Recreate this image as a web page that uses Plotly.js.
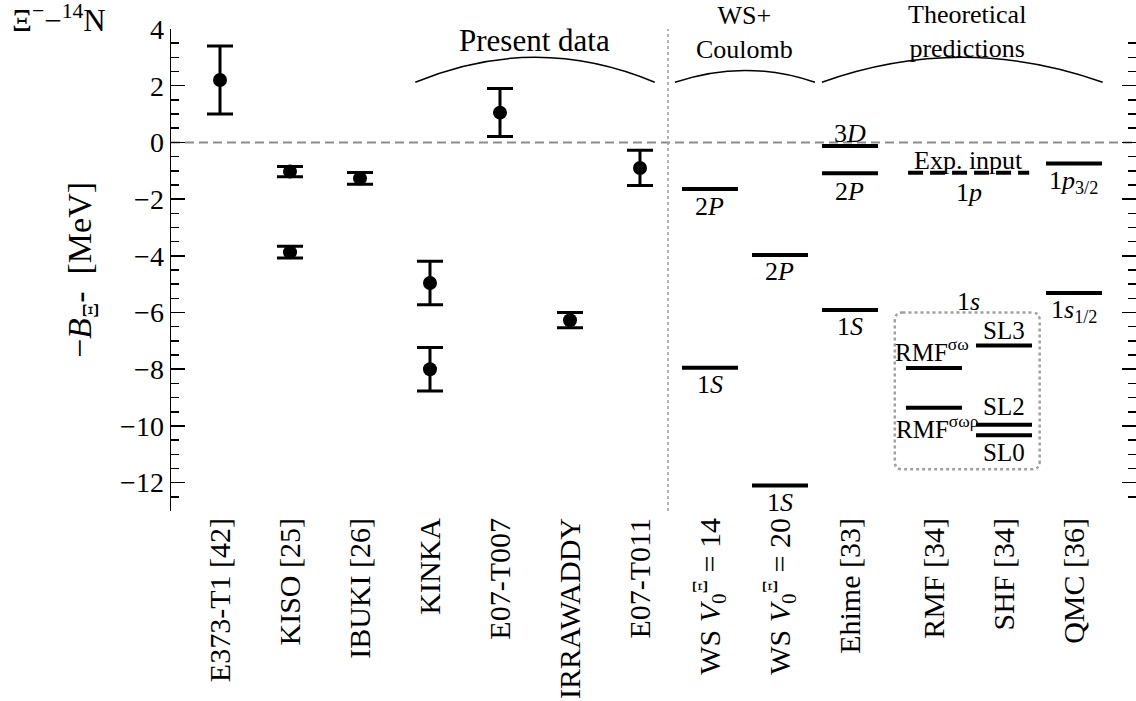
<!DOCTYPE html>
<html>
<head>
<meta charset="utf-8">
<script src="https://cdn.plot.ly/plotly-3.0.1.min.js"></script>
<style>html,body{margin:0;padding:0;background:#fff;}#chart{width:1136px;height:701px;}</style>
</head>
<body>
<div id="chart"></div>
<script>
// ---------------- DATA ----------------
const categories = ['E373-T1 [42]', 'KISO [25]', 'IBUKI [26]', 'KINKA', 'E07-T007', 'IRRAWADDY', 'E07-T011',
  'WS V0=14', 'WS V0=20', 'Ehime [33]', 'RMF [34]', 'SHF [34]', 'QMC [36]'];
const tickLabels = ['E373-T1 [42]', 'KISO [25]', 'IBUKI [26]', 'KINKA', 'E07-T007', 'IRRAWADDY', 'E07-T011',
  'WS <i>V</i><sub>0</sub><sup>Ξ</sup> = 14', 'WS <i>V</i><sub>0</sub><sup>Ξ</sup> = 20', 'Ehime [33]', 'RMF [34]', 'SHF [34]', 'QMC [36]'];

// experimental points (-B in MeV)
const expCategory = ['E373-T1 [42]', 'KISO [25]', 'KISO [25]', 'IBUKI [26]', 'KINKA', 'KINKA', 'E07-T007', 'IRRAWADDY', 'E07-T011'];
const expValue    = [2.20, -1.03, -3.87, -1.27, -4.96, -8.00, 1.05, -6.27, -0.90];
const expErrPlus  = [1.20, 0.18, 0.21, 0.21, 0.77, 0.77, 0.85, 0.27, 0.62];
const expErrMinus = [1.20, 0.18, 0.21, 0.21, 0.77, 0.77, 0.84, 0.27, 0.62];

// theoretical levels
const ws14Levels = [-1.64, -7.95];
const ws14Labels = ['2<i>P</i>', '1<i>S</i>'];
const ws20Levels = [-3.97, -12.10];
const ws20Labels = ['2<i>P</i>', '1<i>S</i>'];
const ehimeLevels = [-0.13, -1.09, -5.91];
const ehimeLabels = ['3<i>D</i>', '2<i>P</i>', '1<i>S</i>'];
const rmfLevels = [-7.96, -9.36];
const rmfLabels = ['RMF<sup>σω</sup>', 'RMF<sup>σωρ</sup>'];
const shfLevels = [-7.16, -9.96, -10.33];
const shfLabels = ['SL3', 'SL2', 'SL0'];
const qmcLevels = [-0.74, -5.31];
const qmcLabels = ['1<i>p</i><sub>3/2</sub>', '1<i>s</i><sub>1/2</sub>'];
const expInputLevel = -1.07;

// ---------------- LAYOUT HELPERS ----------------
// horizontal slot of each category on the numeric x axis
const slot = [0, 1, 2, 3, 4, 5, 6, 7, 8, 9, 10.2, 11.2, 12.2];
const pos = c => slot[categories.indexOf(c)];
const HALF = 0.4;
const FONT = 'Liberation Serif, Times New Roman, serif';

const traces = [];
traces.push({
  type: 'scatter', mode: 'markers',
  x: expCategory.map(pos), y: expValue,
  marker: {color: 'black', size: 14, symbol: 'circle'},
  error_y: {type: 'data', symmetric: false, array: expErrPlus, arrayminus: expErrMinus,
            color: 'black', thickness: 3, width: 13},
  showlegend: false, hoverinfo: 'y'
});

function levelTrace(cat, levels) {
  const x = [], y = [];
  const c = pos(cat);
  levels.forEach(v => { x.push(c - HALF, c + HALF, null); y.push(v, v, null); });
  return {type: 'scatter', mode: 'lines', x, y, line: {color: 'black', width: 4},
          showlegend: false, hoverinfo: 'y'};
}
traces.push(levelTrace('WS V0=14', ws14Levels));
traces.push(levelTrace('WS V0=20', ws20Levels));
traces.push(levelTrace('Ehime [33]', ehimeLevels));
traces.push(levelTrace('RMF [34]', rmfLevels));
traces.push(levelTrace('SHF [34]', shfLevels));
traces.push(levelTrace('QMC [36]', qmcLevels));
// experimental input shared by RMF and SHF
traces.push({type: 'scatter', mode: 'lines',
  x: [pos('RMF [34]') - HALF + 0.03, pos('SHF [34]') + HALF - 0.04], y: [expInputLevel, expInputLevel],
  line: {color: 'black', width: 4, dash: '15px,7px'}, showlegend: false, hoverinfo: 'y'});

const annotations = [];
function labelLevels(cat, levels, labels, shifts, size, xshifts) {
  levels.forEach((v, i) => {
    annotations.push({x: pos(cat), y: v, xref: 'x', yref: 'y', text: labels[i], showarrow: false,
      yanchor: 'middle', yshift: shifts[i], xshift: xshifts ? xshifts[i] : 0,
      font: {family: FONT, size: size, color: 'black'}});
  });
}
labelLevels('WS V0=14', ws14Levels, ws14Labels, [-18, -17], 26);
labelLevels('WS V0=20', ws20Levels, ws20Labels, [-17, -17], 26);
labelLevels('Ehime [33]', ehimeLevels, ehimeLabels, [13, -18, -17], 26);
labelLevels('RMF [34]', rmfLevels, rmfLabels, [18, -19], 25, [-2, 4]);
labelLevels('SHF [34]', shfLevels, shfLabels, [15, 18, -17], 25);
labelLevels('QMC [36]', qmcLevels, qmcLabels, [-19, -18], 26);
const expMid = (pos('RMF [34]') + pos('SHF [34]')) / 2;
annotations.push({x: expMid, y: expInputLevel, text: 'Exp. input', showarrow: false, yanchor: 'middle', yshift: 12,
  font: {family: FONT, size: 26, color: 'black'}});
annotations.push({x: expMid, y: expInputLevel, text: '1<i>p</i>', showarrow: false, yanchor: 'middle', yshift: -20,
  font: {family: FONT, size: 26, color: 'black'}});
annotations.push({x: expMid, y: -5.61, text: '1<i>s</i>', showarrow: false, yanchor: 'middle',
  font: {family: FONT, size: 26, color: 'black'}});

// group headers (decoration)
annotations.push({x: 4.5, xref: 'x', y: 0.977, yref: 'paper', yanchor: 'middle', text: 'Present data', showarrow: false,
  font: {family: FONT, size: 31, color: 'black'}});
annotations.push({x: 7.5, xref: 'x', y: 0.992, yref: 'paper', yanchor: 'middle', text: 'WS+<br>Coulomb', showarrow: false,
  font: {family: FONT, size: 26, color: 'black'}});
annotations.push({x: 10.67, xref: 'x', y: 0.994, yref: 'paper', yanchor: 'middle', text: 'Theoretical<br>predictions', showarrow: false,
  font: {family: FONT, size: 26, color: 'black'}});
annotations.push({x: -0.1668, xref: 'paper', xanchor: 'left', y: 1.022, yref: 'paper', yanchor: 'middle',
  text: 'Ξ<sup>−</sup>−<sup>14</sup>N', showarrow: false, font: {family: FONT, size: 31, color: 'black'}});

const shapes = [
  {type: 'line', xref: 'paper', x0: 0, x1: 1, yref: 'y', y0: 0, y1: 0,
   line: {color: '#8c8c8c', width: 2, dash: '9px,5px'}, layer: 'below'},
  {type: 'line', xref: 'x', x0: 6.4, x1: 6.4, yref: 'paper', y0: 0, y1: 1,
   line: {color: '#9a9a9a', width: 1.5, dash: 'dot'}, layer: 'below'},
  {type: 'path', xref: 'x', yref: 'y', path: 'M 2.79,2.12 Q 4.5,3.88 6.21,2.12', line: {color: 'black', width: 1.5}},
  {type: 'path', xref: 'x', yref: 'y', path: 'M 6.5,2.12 Q 7.5,2.96 8.5,2.12', line: {color: 'black', width: 1.5}},
  {type: 'path', xref: 'x', yref: 'y', path: 'M 8.6,2.12 Q 10.6,3.88 12.61,2.12', line: {color: 'black', width: 1.5}},
  {type: 'path', xref: 'x', yref: 'y',
   path: 'M 9.75,-6.0 L 11.6,-6.0 Q 11.71,-6.0 11.71,-6.28 L 11.71,-11.25 Q 11.71,-11.53 11.6,-11.53 ' +
         'L 9.75,-11.53 Q 9.64,-11.53 9.64,-11.25 L 9.64,-6.28 Q 9.64,-6.0 9.75,-6.0 Z',
   line: {color: '#a0a0a0', width: 2.5, dash: 'dot'}}
];

const layout = {
  width: 1136, height: 701,
  margin: {l: 171, r: 0, t: 29, b: 190, pad: 0},
  paper_bgcolor: 'white', plot_bgcolor: 'white',
  font: {family: FONT, color: 'black'},
  showlegend: false,
  xaxis: {
    range: [-0.7, 13.086], tickmode: 'array', tickvals: slot, ticktext: tickLabels,
    tickangle: -90, ticks: '', showline: false, showgrid: false, zeroline: false,
    tickfont: {family: FONT, size: 30, color: 'black'}, automargin: false
  },
  yaxis: {
    range: [-13, 4], dtick: 2, tick0: 0, ticks: 'inside', ticklen: 14, tickwidth: 1.5, tickcolor: 'black',
    minor: {ticks: 'inside', ticklen: 8, dtick: 0.5, tick0: 0, tickwidth: 1.5, tickcolor: 'black'},
    showline: true, linecolor: 'black', linewidth: 1.5, mirror: 'ticks',
    showgrid: false, zeroline: false,
    tickfont: {family: FONT, size: 28, color: 'black'},
    title: {text: '−<i>B</i><sub>Ξ</sub>-  [MeV]', font: {family: FONT, size: 34, color: 'black'}, standoff: 18},
    automargin: false
  },
  annotations, shapes
};

Plotly.newPlot('chart', traces, layout, {displayModeBar: false, staticPlot: true});
</script>
</body>
</html>
